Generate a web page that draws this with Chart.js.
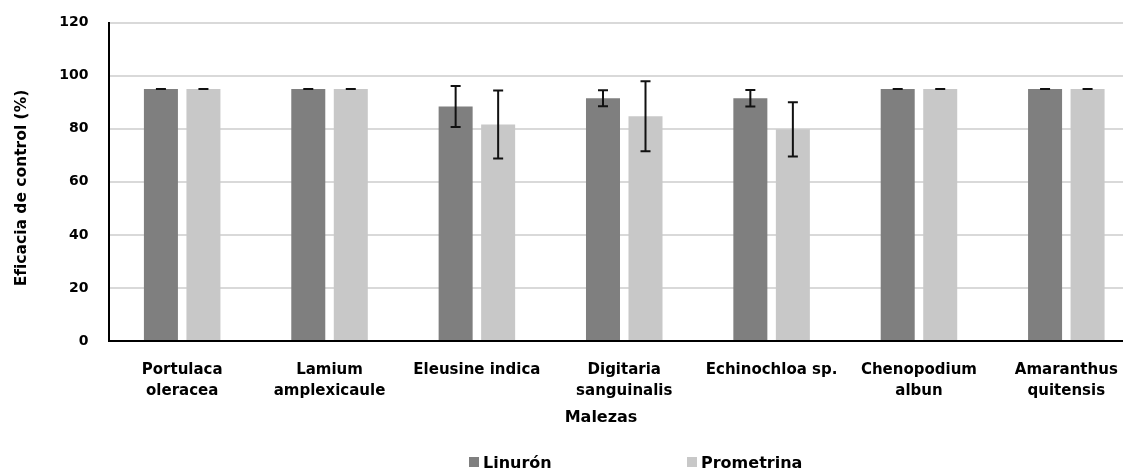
<!DOCTYPE html>
<html lang="es">
<head>
<meta charset="utf-8">
<title>Eficacia de control de malezas</title>
<script src="https://cdn.jsdelivr.net/npm/chart.js@4/dist/chart.umd.min.js"></script>
<style>
  html, body { margin: 0; padding: 0; background: #fff; overflow: hidden; }
  #wrap { width: 1140px; height: 470px; }
</style>
</head>
<body>
<div id="wrap"><canvas id="chart" width="1140" height="470"></canvas></div>
<script>
// Weed species (multi-line where the label wraps)
const malezas = [
  ['Portulaca', 'oleracea'],
  ['Lamium', 'amplexicaule'],
  'Eleusine indica',
  ['Digitaria', 'sanguinalis'],
  'Echinochloa sp.',
  ['Chenopodium', 'albun'],
  ['Amaranthus', 'quitensis']
];

// Mean control efficacy (%) per herbicide
const linuron    = [95, 95, 88.4, 91.5, 91.5, 95, 95];
const prometrina = [95, 95, 81.6, 84.7, 79.8, 95, 95];

// Half-width of each error bar (%)
const errLinuron    = [0, 0, 7.7, 3.0, 3.1, 0, 0];
const errPrometrina = [0, 0, 12.8, 13.2, 10.2, 0, 0];

// Axis ticks
const yTicks = [0, 20, 40, 60, 80, 100, 120];

const yTitle = 'Eficacia de control (%)';
const xTitle = 'Malezas';
const seriesNames = ['Linurón', 'Prometrina'];

const FONT = 'DejaVu Sans';

// Error bars drawn on top of each bar from the value scale
const errorBars = {
  id: 'errorBars',
  afterDatasetsDraw(chart) {
    const ctx = chart.ctx;
    const y = chart.scales.y;
    ctx.save();
    ctx.strokeStyle = '#111';
    ctx.lineWidth = 2;
    chart.data.datasets.forEach((ds, di) => {
      const meta = chart.getDatasetMeta(di);
      meta.data.forEach((bar, i) => {
        const v = ds.data[i], e = ds.errors[i];
        const yTop = y.getPixelForValue(v + e);
        const yBot = y.getPixelForValue(v - e);
        const cap = 5;
        ctx.beginPath();
        ctx.moveTo(bar.x, yTop); ctx.lineTo(bar.x, yBot);
        ctx.moveTo(bar.x - cap, yTop); ctx.lineTo(bar.x + cap, yTop);
        ctx.moveTo(bar.x - cap, yBot); ctx.lineTo(bar.x + cap, yBot);
        ctx.stroke();
      });
    });
    ctx.restore();
  }
};

// Axis titles and the legend row beneath the chart
const annotations = {
  id: 'annotations',
  afterDraw(chart) {
    const ctx = chart.ctx;
    ctx.save();
    ctx.fillStyle = '#000';

    // vertical axis title
    ctx.font = `bold 15.5px "${FONT}"`;
    ctx.textAlign = 'center';
    ctx.textBaseline = 'middle';
    ctx.translate(22, 188);
    ctx.rotate(-Math.PI / 2);
    ctx.fillText(yTitle, 0, 0);
    ctx.setTransform(1, 0, 0, 1, 0, 0);

    // category axis title
    ctx.font = `bold 16px "${FONT}"`;
    ctx.textBaseline = 'alphabetic';
    ctx.fillText(xTitle, 601, 422);

    // legend
    ctx.textAlign = 'left';
    const items = [{ x: 469 }, { x: 687 }];
    chart.data.datasets.forEach((ds, i) => {
      ctx.fillStyle = ds.backgroundColor;
      ctx.fillRect(items[i].x, 457, 10, 10);
      ctx.fillStyle = '#000';
      ctx.fillText(ds.label, items[i].x + 14, 468);
    });
    ctx.restore();
  }
};

new Chart(document.getElementById('chart'), {
  type: 'bar',
  data: {
    labels: malezas,
    datasets: [
      { label: seriesNames[0], data: linuron, errors: errLinuron, backgroundColor: '#7f7f7f' },
      { label: seriesNames[1], data: prometrina, errors: errPrometrina, backgroundColor: '#c8c8c8' }
    ]
  },
  options: {
    responsive: false,
    animation: false,
    devicePixelRatio: 1,
    categoryPercentage: 0.577,
    barPercentage: 0.8,
    layout: { padding: { top: 22.7, right: 0, bottom: 64, left: 0 } },
    plugins: { legend: { display: false }, tooltip: { enabled: false } },
    scales: {
      x: {
        grid: { display: false, drawTicks: false },
        border: { display: true, color: '#000', width: 2 },
        ticks: {
          color: '#000',
          padding: 19,
          maxRotation: 0,
          autoSkip: false,
          font: { family: FONT, size: 15, weight: 'bold', lineHeight: 1.4 }
        },
        afterFit(scale) { scale.height = 65; }
      },
      y: {
        min: yTicks[0],
        max: yTicks[yTicks.length - 1],
        afterBuildTicks(scale) { scale.ticks = yTicks.map(v => ({ value: v })); },
        grid: { color: '#d9d9d9', lineWidth: 2, drawTicks: false },
        border: { display: true, color: '#000', width: 2 },
        ticks: {
          color: '#000',
          padding: 20,
          font: { family: FONT, size: 14, weight: 'bold' }
        },
        afterFit(scale) {
          scale.width = 108.5;
          scale.paddingTop = 0;
          scale.paddingBottom = 0;
        }
      }
    }
  },
  plugins: [errorBars, annotations]
});
</script>
</body>
</html>
